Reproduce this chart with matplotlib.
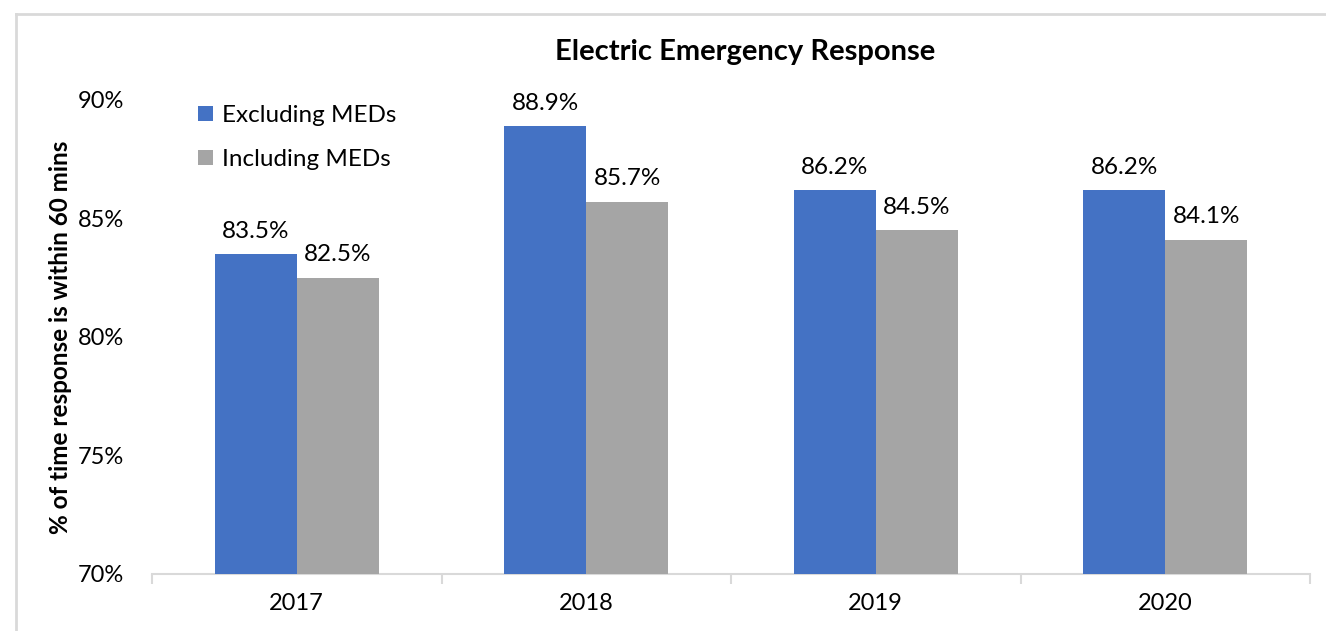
import matplotlib
matplotlib.use("Agg")
import matplotlib.pyplot as plt
import numpy as np
from matplotlib.lines import Line2D
from matplotlib.ticker import FuncFormatter

years = ["2017", "2018", "2019", "2020"]
excluding = [83.5, 88.9, 86.2, 86.2]
including = [82.5, 85.7, 84.5, 84.1]
series_names = ["Excluding MEDs", "Including MEDs"]
yticks = [70, 75, 80, 85, 90]

plt.rcParams['font.family'] = ['Lato', 'DejaVu Sans']

fig = plt.figure(figsize=(13.26, 6.31), dpi=100)
# outer border (top and left edges visible)
bx, by = 15.5/1326, 1 - 13.5/631
fig.lines.append(Line2D([bx, 1.0], [by, by], transform=fig.transFigure, color='#D9D9D9', linewidth=2))
fig.lines.append(Line2D([bx, bx], [0.0, by], transform=fig.transFigure, color='#D9D9D9', linewidth=2))
ax = fig.add_axes([152/1326, 1 - 574/631, (1310-152)/1326, (574-100)/631])

x = np.arange(len(years))
w = 0.283
b1 = ax.bar(x - w/2, excluding, w, color='#4472C4', label=series_names[0])
b2 = ax.bar(x + w/2, including, w, color='#A5A5A5', label=series_names[1])
for bars, vals in ((b1, excluding), (b2, including)):
    for r, v in zip(bars, vals):
        ax.annotate(f"{v:.1f}%", (r.get_x() + r.get_width()/2, v), xytext=(0, 9),
                    textcoords='offset points', ha='center', va='bottom', fontsize=17.5, color='#000000')

ax.set_ylim(70, 90)
ax.set_xlim(-0.5, len(years) - 0.5)
ax.set_yticks(yticks)
ax.yaxis.set_major_formatter(FuncFormatter(lambda v, p: f"{v:.0f}%"))
ax.set_xticks(x)
ax.set_xticklabels(years)
ax.set_xticks(np.arange(-0.5, len(years)), minor=True)
ax.tick_params(axis='x', which='major', length=0, pad=14, labelsize=17)
ax.tick_params(axis='x', which='minor', length=7, color='#D9D9D9', width=1.5, direction='out')
ax.tick_params(axis='y', length=0, pad=20, labelsize=17)
for s in ['top', 'right', 'left']:
    ax.spines[s].set_visible(False)
ax.spines['bottom'].set_color('#D9D9D9')
ax.spines['bottom'].set_linewidth(1.5)
ax.spines['bottom'].set_zorder(0)
ax.set_ylabel("% of time response is within 60 mins", fontsize=17.5, fontweight='bold')
ax.yaxis.set_label_coords((72 - 152) / 1158, 0.5)
fig.text(745/1326, 1 - 52/631, "Electric Emergency Response", ha='center', va='center',
         fontsize=21, fontweight='bold')
ax.legend(loc='upper left', bbox_to_anchor=(0.025, 1.025), frameon=False, fontsize=17.5,
          handlelength=0.6, handleheight=0.6, handletextpad=0.4, labelspacing=0.95,
          borderpad=0.2)
ax.patch.set_visible(False)
fig.savefig("out.png", dpi=100)
